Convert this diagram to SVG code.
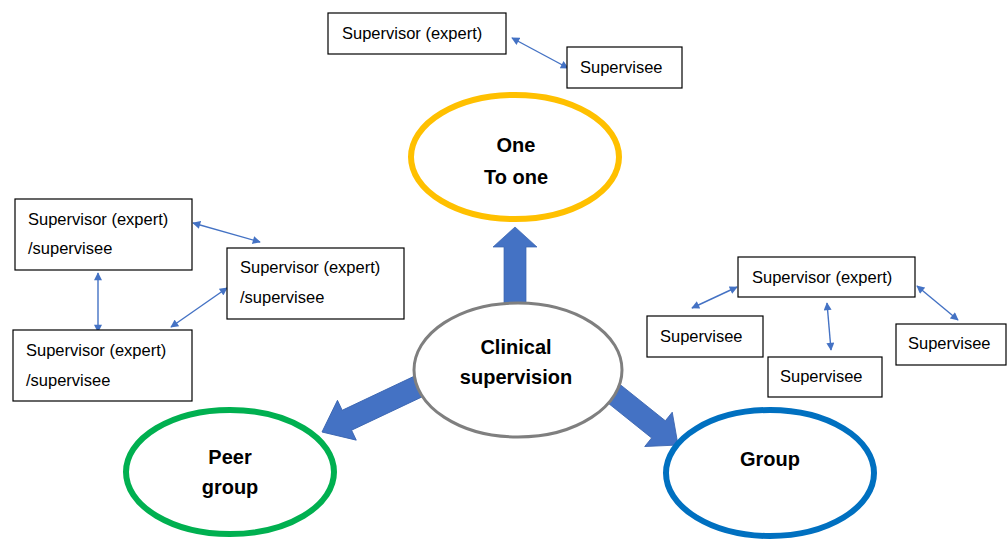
<svg xmlns="http://www.w3.org/2000/svg" width="1007" height="539" viewBox="0 0 1007 539">
  <style>
    .box { fill: #ffffff; stroke: #000000; stroke-width: 1.2; }
    .lbl { font-family: "Liberation Sans", Arial, sans-serif; font-size: 16.5px; fill: #000000; }
    .big { font-family: "Liberation Sans", Arial, sans-serif; font-size: 20px; font-weight: bold; fill: #000000; text-anchor: middle; }
    .link { fill: none; stroke: #4472C4; stroke-width: 1.4; marker-start: url(#tri); marker-end: url(#tri); }
    .block { fill: #4472C4; stroke: #3a64b0; stroke-width: 0.8; }
    .oval { fill: #ffffff; }
  </style>
  <defs>
    <marker id="tri" viewBox="0 0 10 10" refX="9" refY="5" markerWidth="9" markerHeight="8" markerUnits="userSpaceOnUse" orient="auto-start-reverse">
      <path d="M0,0 L10,5 L0,10 Z" fill="#4472C4"/>
    </marker>
    <path id="blockArrow" d="M-100,-11 L-25,-11 L-25,-22 L0,0 L-25,22 L-25,11 L-100,11 Z"/>
  </defs>
  <rect width="1007" height="539" fill="#ffffff"/>

  <!-- broad arrows from the centre towards each mode -->
  <g id="connectors">
    <use href="#blockArrow" class="block" transform="translate(515,227) rotate(-90) scale(0.8,1)"/>
    <use href="#blockArrow" class="block" transform="translate(322,432) rotate(154.7) scale(1.1,1)"/>
    <use href="#blockArrow" class="block" transform="translate(678,445) rotate(38.7)"/>

    <!-- thin two-way links between the small role boxes -->
    <line class="link" x1="512" y1="38" x2="568" y2="68"/>
    <line class="link" x1="193" y1="223" x2="260" y2="242"/>
    <line class="link" x1="98" y1="273" x2="98" y2="332"/>
    <line class="link" x1="227" y1="288" x2="171" y2="327"/>
    <line class="link" x1="737" y1="287" x2="692" y2="308"/>
    <line class="link" x1="827" y1="303" x2="831" y2="350"/>
    <line class="link" x1="917" y1="286" x2="958" y2="320"/>
  </g>

  <!-- supervision modes -->
  <g id="one-to-one">
    <ellipse class="oval" cx="515" cy="157" rx="104" ry="62" stroke="#FFC000" stroke-width="6"/>
    <text class="big" x="516" y="152">One</text>
    <text class="big" x="516" y="184">To one</text>
  </g>
  <g id="clinical-supervision">
    <ellipse class="oval" cx="518" cy="370" rx="104" ry="67" stroke="#7F7F7F" stroke-width="3"/>
    <text class="big" x="516" y="354">Clinical</text>
    <text class="big" x="516" y="384">supervision</text>
  </g>
  <g id="peer-group">
    <ellipse class="oval" cx="230" cy="472" rx="104" ry="62" stroke="#00B050" stroke-width="6"/>
    <text class="big" x="230" y="464">Peer</text>
    <text class="big" x="230" y="494">group</text>
  </g>
  <g id="group">
    <ellipse class="oval" cx="770" cy="473" rx="104" ry="63" stroke="#0070C0" stroke-width="6"/>
    <text class="big" x="770" y="466">Group</text>
  </g>

  <!-- one-to-one roles -->
  <g id="o2o-supervisor">
    <rect class="box" x="328" y="13" width="178" height="41"/>
    <text class="lbl" x="342" y="39">Supervisor (expert)</text>
  </g>
  <g id="o2o-supervisee">
    <rect class="box" x="567" y="47" width="115" height="41"/>
    <text class="lbl" x="580" y="73">Supervisee</text>
  </g>

  <!-- peer group roles -->
  <g id="peer-a">
    <rect class="box" x="15" y="199" width="177" height="71"/>
    <text class="lbl" x="28" y="225">Supervisor (expert)</text>
    <text class="lbl" x="28" y="254">/supervisee</text>
  </g>
  <g id="peer-b">
    <rect class="box" x="227" y="248" width="177" height="71"/>
    <text class="lbl" x="240" y="273">Supervisor (expert)</text>
    <text class="lbl" x="240" y="303">/supervisee</text>
  </g>
  <g id="peer-c">
    <rect class="box" x="13" y="330" width="179" height="71"/>
    <text class="lbl" x="26" y="356">Supervisor (expert)</text>
    <text class="lbl" x="26" y="386">/supervisee</text>
  </g>

  <!-- group roles -->
  <g id="grp-supervisor">
    <rect class="box" x="738" y="257" width="177" height="40"/>
    <text class="lbl" x="752" y="283">Supervisor (expert)</text>
  </g>
  <g id="grp-supervisee-1">
    <rect class="box" x="647" y="316" width="116" height="41"/>
    <text class="lbl" x="660" y="342">Supervisee</text>
  </g>
  <g id="grp-supervisee-2">
    <rect class="box" x="768" y="357" width="114" height="40"/>
    <text class="lbl" x="780" y="382">Supervisee</text>
  </g>
  <g id="grp-supervisee-3">
    <rect class="box" x="896" y="324" width="110" height="41"/>
    <text class="lbl" x="908" y="349">Supervisee</text>
  </g>
</svg>
